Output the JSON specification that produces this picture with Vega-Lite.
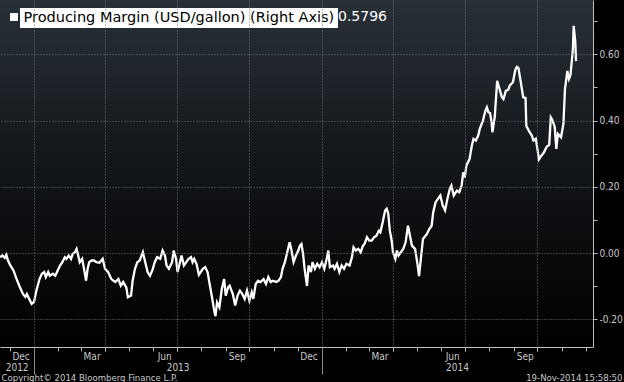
{
  "$schema": "https://vega.github.io/schema/vega-lite/v6.json",
  "width": 593,
  "height": 347,
  "autosize": {"type": "none"},
  "padding": {"left": 0, "top": 0, "right": 31, "bottom": 35},
  "background": "#000000",
  "config": {
    "view": {"stroke": null},
    "axis": {
      "labelFont": "Liberation Sans Narrow, Arial Narrow, DejaVu Sans Condensed, sans-serif",
      "labelFontSize": 10,
      "labelColor": "#c8c8c8",
      "tickColor": "#b8b8b8",
      "domainColor": "#c0c0c0",
      "gridColor": "#737a82",
      "gridDash": [1, 2],
      "titleFont": "Liberation Sans Narrow, Arial Narrow, DejaVu Sans Condensed, sans-serif",
      "titleFontSize": 9.5,
      "titleFontWeight": "normal",
      "titleColor": "#c8c8c8",
      "labelFlush": false,
      "labelOverlap": false,
      "labelBound": false,
      "zindex": 1
    }
  },
  "data": {"values": [
    {"date": "2012-11-19", "value": -0.012}, {"date": "2012-11-22", "value": -0.007}, {"date": "2012-11-25", "value": -0.014}, {"date": "2012-11-27", "value": -0.005}, {"date": "2012-11-29", "value": -0.022},
    {"date": "2012-12-02", "value": -0.037}, {"date": "2012-12-06", "value": -0.052}, {"date": "2012-12-10", "value": -0.078}, {"date": "2012-12-14", "value": -0.102}, {"date": "2012-12-18", "value": -0.123},
    {"date": "2012-12-21", "value": -0.132}, {"date": "2012-12-23", "value": -0.123}, {"date": "2012-12-26", "value": -0.138}, {"date": "2012-12-29", "value": -0.153}, {"date": "2013-01-01", "value": -0.147},
    {"date": "2013-01-04", "value": -0.113}, {"date": "2013-01-08", "value": -0.078}, {"date": "2013-01-11", "value": -0.062}, {"date": "2013-01-14", "value": -0.057}, {"date": "2013-01-16", "value": -0.072},
    {"date": "2013-01-19", "value": -0.057}, {"date": "2013-01-21", "value": -0.068}, {"date": "2013-01-25", "value": -0.062}, {"date": "2013-01-28", "value": -0.068}, {"date": "2013-01-31", "value": -0.052},
    {"date": "2013-02-03", "value": -0.037}, {"date": "2013-02-06", "value": -0.027}, {"date": "2013-02-09", "value": -0.012}, {"date": "2013-02-11", "value": -0.017}, {"date": "2013-02-14", "value": -0.007},
    {"date": "2013-02-17", "value": -0.017}, {"date": "2013-02-19", "value": -0.002}, {"date": "2013-02-22", "value": 0.003}, {"date": "2013-02-24", "value": 0.013}, {"date": "2013-02-26", "value": -0.007},
    {"date": "2013-02-28", "value": -0.027}, {"date": "2013-03-03", "value": -0.017}, {"date": "2013-03-05", "value": -0.042}, {"date": "2013-03-08", "value": -0.083}, {"date": "2013-03-10", "value": -0.047},
    {"date": "2013-03-12", "value": -0.027}, {"date": "2013-03-15", "value": -0.022}, {"date": "2013-03-18", "value": -0.022}, {"date": "2013-03-21", "value": -0.027}, {"date": "2013-03-25", "value": -0.029},
    {"date": "2013-03-29", "value": -0.017}, {"date": "2013-04-01", "value": -0.047}, {"date": "2013-04-05", "value": -0.057}, {"date": "2013-04-09", "value": -0.078}, {"date": "2013-04-14", "value": -0.087},
    {"date": "2013-04-18", "value": -0.078}, {"date": "2013-04-21", "value": -0.098}, {"date": "2013-04-24", "value": -0.087}, {"date": "2013-04-28", "value": -0.103}, {"date": "2013-04-30", "value": -0.133},
    {"date": "2013-05-04", "value": -0.128}, {"date": "2013-05-06", "value": -0.083}, {"date": "2013-05-09", "value": -0.047}, {"date": "2013-05-12", "value": -0.027}, {"date": "2013-05-15", "value": -0.022},
    {"date": "2013-05-19", "value": 0.003}, {"date": "2013-05-22", "value": -0.027}, {"date": "2013-05-25", "value": -0.057}, {"date": "2013-05-28", "value": -0.068}, {"date": "2013-05-31", "value": -0.052},
    {"date": "2013-06-03", "value": -0.027}, {"date": "2013-06-06", "value": -0.012}, {"date": "2013-06-10", "value": -0.017}, {"date": "2013-06-13", "value": 0.008}, {"date": "2013-06-16", "value": -0.007},
    {"date": "2013-06-18", "value": -0.037}, {"date": "2013-06-21", "value": -0.047}, {"date": "2013-06-25", "value": -0.027}, {"date": "2013-06-27", "value": 0.008}, {"date": "2013-06-30", "value": -0.017},
    {"date": "2013-07-02", "value": -0.057}, {"date": "2013-07-05", "value": -0.027}, {"date": "2013-07-07", "value": -0.007}, {"date": "2013-07-10", "value": -0.037}, {"date": "2013-07-13", "value": -0.027},
    {"date": "2013-07-16", "value": -0.017}, {"date": "2013-07-19", "value": -0.012}, {"date": "2013-07-21", "value": -0.027}, {"date": "2013-07-23", "value": -0.017}, {"date": "2013-07-26", "value": -0.032},
    {"date": "2013-07-29", "value": -0.065}, {"date": "2013-08-03", "value": -0.047}, {"date": "2013-08-06", "value": -0.042}, {"date": "2013-08-09", "value": -0.057}, {"date": "2013-08-12", "value": -0.098},
    {"date": "2013-08-15", "value": -0.138}, {"date": "2013-08-17", "value": -0.168}, {"date": "2013-08-19", "value": -0.190}, {"date": "2013-08-21", "value": -0.148}, {"date": "2013-08-24", "value": -0.163},
    {"date": "2013-08-27", "value": -0.108}, {"date": "2013-08-30", "value": -0.078}, {"date": "2013-09-01", "value": -0.128}, {"date": "2013-09-04", "value": -0.103}, {"date": "2013-09-06", "value": -0.098},
    {"date": "2013-09-10", "value": -0.123}, {"date": "2013-09-13", "value": -0.158}, {"date": "2013-09-16", "value": -0.128}, {"date": "2013-09-19", "value": -0.113}, {"date": "2013-09-22", "value": -0.123},
    {"date": "2013-09-25", "value": -0.138}, {"date": "2013-09-28", "value": -0.113}, {"date": "2013-10-01", "value": -0.143}, {"date": "2013-10-04", "value": -0.118}, {"date": "2013-10-06", "value": -0.138},
    {"date": "2013-10-09", "value": -0.093}, {"date": "2013-10-12", "value": -0.083}, {"date": "2013-10-15", "value": -0.087}, {"date": "2013-10-19", "value": -0.078}, {"date": "2013-10-22", "value": -0.093},
    {"date": "2013-10-25", "value": -0.072}, {"date": "2013-10-28", "value": -0.087}, {"date": "2013-10-31", "value": -0.083}, {"date": "2013-11-04", "value": -0.087}, {"date": "2013-11-07", "value": -0.083},
    {"date": "2013-11-10", "value": -0.072}, {"date": "2013-11-12", "value": -0.047}, {"date": "2013-11-15", "value": -0.027}, {"date": "2013-11-18", "value": 0.003}, {"date": "2013-11-21", "value": 0.033},
    {"date": "2013-11-23", "value": 0.013}, {"date": "2013-11-26", "value": -0.027}, {"date": "2013-11-29", "value": -0.007}, {"date": "2013-12-02", "value": 0.008}, {"date": "2013-12-04", "value": 0.023},
    {"date": "2013-12-06", "value": 0.028}, {"date": "2013-12-08", "value": -0.002}, {"date": "2013-12-10", "value": -0.047}, {"date": "2013-12-13", "value": -0.099}, {"date": "2013-12-15", "value": -0.037},
    {"date": "2013-12-18", "value": -0.057}, {"date": "2013-12-20", "value": -0.027}, {"date": "2013-12-23", "value": -0.047}, {"date": "2013-12-26", "value": -0.032}, {"date": "2013-12-29", "value": -0.042},
    {"date": "2014-01-01", "value": -0.027}, {"date": "2014-01-04", "value": -0.047}, {"date": "2014-01-07", "value": -0.017}, {"date": "2014-01-09", "value": 0.008}, {"date": "2014-01-11", "value": -0.042},
    {"date": "2014-01-15", "value": -0.037}, {"date": "2014-01-17", "value": -0.047}, {"date": "2014-01-20", "value": -0.032}, {"date": "2014-01-23", "value": -0.057}, {"date": "2014-01-26", "value": -0.037},
    {"date": "2014-01-29", "value": -0.047}, {"date": "2014-02-01", "value": -0.032}, {"date": "2014-02-05", "value": -0.037}, {"date": "2014-02-08", "value": -0.012}, {"date": "2014-02-10", "value": 0.018},
    {"date": "2014-02-13", "value": 0.008}, {"date": "2014-02-16", "value": 0.013}, {"date": "2014-02-19", "value": 0.003}, {"date": "2014-02-22", "value": 0.023}, {"date": "2014-02-24", "value": 0.028},
    {"date": "2014-02-27", "value": 0.048}, {"date": "2014-03-02", "value": 0.038}, {"date": "2014-03-05", "value": 0.038}, {"date": "2014-03-08", "value": 0.048}, {"date": "2014-03-11", "value": 0.053},
    {"date": "2014-03-14", "value": 0.068}, {"date": "2014-03-16", "value": 0.063}, {"date": "2014-03-19", "value": 0.094}, {"date": "2014-03-22", "value": 0.129}, {"date": "2014-03-24", "value": 0.134},
    {"date": "2014-03-26", "value": 0.119}, {"date": "2014-03-28", "value": 0.068}, {"date": "2014-03-30", "value": 0.043}, {"date": "2014-04-01", "value": 0.003}, {"date": "2014-04-04", "value": -0.017},
    {"date": "2014-04-06", "value": 0.008}, {"date": "2014-04-08", "value": -0.007}, {"date": "2014-04-11", "value": 0.003}, {"date": "2014-04-14", "value": 0.013}, {"date": "2014-04-17", "value": 0.033},
    {"date": "2014-04-20", "value": 0.083}, {"date": "2014-04-25", "value": 0.023}, {"date": "2014-04-29", "value": 0.013}, {"date": "2014-05-02", "value": -0.032}, {"date": "2014-05-04", "value": -0.069},
    {"date": "2014-05-09", "value": 0.043}, {"date": "2014-05-14", "value": 0.058}, {"date": "2014-05-17", "value": 0.073}, {"date": "2014-05-20", "value": 0.083}, {"date": "2014-05-22", "value": 0.124},
    {"date": "2014-05-25", "value": 0.154}, {"date": "2014-05-28", "value": 0.164}, {"date": "2014-05-31", "value": 0.174}, {"date": "2014-06-03", "value": 0.144}, {"date": "2014-06-06", "value": 0.129},
    {"date": "2014-06-09", "value": 0.164}, {"date": "2014-06-12", "value": 0.194}, {"date": "2014-06-14", "value": 0.204}, {"date": "2014-06-17", "value": 0.174}, {"date": "2014-06-21", "value": 0.189},
    {"date": "2014-06-24", "value": 0.184}, {"date": "2014-06-27", "value": 0.204}, {"date": "2014-06-29", "value": 0.244}, {"date": "2014-07-01", "value": 0.229}, {"date": "2014-07-03", "value": 0.264},
    {"date": "2014-07-07", "value": 0.284}, {"date": "2014-07-10", "value": 0.325}, {"date": "2014-07-12", "value": 0.345}, {"date": "2014-07-15", "value": 0.340}, {"date": "2014-07-18", "value": 0.355},
    {"date": "2014-07-20", "value": 0.375}, {"date": "2014-07-24", "value": 0.400}, {"date": "2014-07-27", "value": 0.429}, {"date": "2014-07-29", "value": 0.440}, {"date": "2014-07-31", "value": 0.425},
    {"date": "2014-08-02", "value": 0.423}, {"date": "2014-08-04", "value": 0.395}, {"date": "2014-08-05", "value": 0.365}, {"date": "2014-08-08", "value": 0.411}, {"date": "2014-08-11", "value": 0.520},
    {"date": "2014-08-14", "value": 0.496}, {"date": "2014-08-17", "value": 0.471}, {"date": "2014-08-19", "value": 0.465}, {"date": "2014-08-22", "value": 0.490}, {"date": "2014-08-25", "value": 0.493},
    {"date": "2014-08-27", "value": 0.506}, {"date": "2014-08-31", "value": 0.516}, {"date": "2014-09-03", "value": 0.553}, {"date": "2014-09-05", "value": 0.562}, {"date": "2014-09-07", "value": 0.559},
    {"date": "2014-09-10", "value": 0.516}, {"date": "2014-09-13", "value": 0.471}, {"date": "2014-09-16", "value": 0.468}, {"date": "2014-09-17", "value": 0.384}, {"date": "2014-09-21", "value": 0.366},
    {"date": "2014-09-24", "value": 0.355}, {"date": "2014-09-26", "value": 0.340}, {"date": "2014-09-29", "value": 0.345}, {"date": "2014-10-01", "value": 0.315}, {"date": "2014-10-03", "value": 0.283},
    {"date": "2014-10-06", "value": 0.294}, {"date": "2014-10-09", "value": 0.303}, {"date": "2014-10-13", "value": 0.322}, {"date": "2014-10-16", "value": 0.327}, {"date": "2014-10-18", "value": 0.410},
    {"date": "2014-10-20", "value": 0.402}, {"date": "2014-10-23", "value": 0.381}, {"date": "2014-10-25", "value": 0.315}, {"date": "2014-10-27", "value": 0.360}, {"date": "2014-10-31", "value": 0.350},
    {"date": "2014-11-03", "value": 0.390}, {"date": "2014-11-05", "value": 0.496}, {"date": "2014-11-08", "value": 0.550}, {"date": "2014-11-10", "value": 0.526}, {"date": "2014-11-12", "value": 0.538},
    {"date": "2014-11-15", "value": 0.616}, {"date": "2014-11-16", "value": 0.686}, {"date": "2014-11-18", "value": 0.640}, {"date": "2014-11-19", "value": 0.5796}
  ]},
  "layer": [
    {
      "data": {"values": [{"panel": "plot"}]},
      "mark": {"type": "rect", "color": {"gradient": "linear", "x1": 0, "y1": 0, "x2": 0, "y2": 1, "stops": [{"offset": 0, "color": "#283038"}, {"offset": 0.5, "color": "#111418"}, {"offset": 1, "color": "#000000"}]}},
      "encoding": {}
    },
    {
      "mark": {"type": "line", "color": "#ffffff", "strokeWidth": 2.3},
      "encoding": {
        "x": {"field": "date", "type": "temporal",
          "scale": {"domain": [{"year": 2012, "month": 11, "date": 18, "hours": 22}, {"year": 2014, "month": 12, "date": 10, "hours": 12}], "nice": false},
          "axis": {"orient": "bottom", "title": null, "labels": false, "grid": true, "ticks": true, "tickSize": 4, "domain": true, "zindex": 1,
            "values": [{"year": 2013, "month": 1, "date": 1}, {"year": 2013, "month": 4, "date": 1}, {"year": 2013, "month": 7, "date": 1}, {"year": 2013, "month": 10, "date": 1}, {"year": 2014, "month": 1, "date": 1}, {"year": 2014, "month": 4, "date": 1}, {"year": 2014, "month": 7, "date": 1}, {"year": 2014, "month": 10, "date": 1}]}},
        "y": {"field": "value", "type": "quantitative",
          "scale": {"domain": [-0.283, 0.764], "nice": false, "zero": false},
          "axis": {"orient": "right", "title": null, "grid": true, "tickSize": 4, "labelPadding": 2, "domain": true, "zindex": 1,
            "values": [-0.2, 0, 0.2, 0.4, 0.6],
            "labelExpr": "(datum.value < -0.001 ? '-' : '') + format(abs(datum.value), '.2f')"}},
        "color": {"datum": "Producing Margin", "type": "nominal", "scale": {"range": ["#ffffff"]},
          "legend": {"orient": "none", "legendX": 7, "legendY": 10, "title": null, "padding": 0,
            "symbolType": "square", "symbolSize": 64, "symbolFillColor": "#ffffff", "symbolStrokeColor": "#ffffff", "symbolStrokeWidth": 0,
            "labelExpr": "'0.5796'", "labelColor": "#ffffff", "labelFont": "DejaVu Sans", "labelFontSize": 14, "labelOffset": 317, "labelLimit": 0}}
      }
    },
    {
      "mark": {"type": "point", "opacity": 0},
      "encoding": {
        "x": {"field": "date", "type": "temporal",
          "scale": {"domain": [{"year": 2012, "month": 11, "date": 18, "hours": 22}, {"year": 2014, "month": 12, "date": 10, "hours": 12}], "nice": false},
          "axis": {"orient": "bottom", "title": null, "labels": false, "grid": false, "ticks": true, "tickSize": 4, "domain": false, "zindex": 1,
            "values": [{"year": 2012, "month": 12, "date": 1}, {"year": 2013, "month": 1, "date": 1}, {"year": 2013, "month": 2, "date": 1}, {"year": 2013, "month": 3, "date": 1}, {"year": 2013, "month": 4, "date": 1}, {"year": 2013, "month": 5, "date": 1}, {"year": 2013, "month": 6, "date": 1}, {"year": 2013, "month": 7, "date": 1}, {"year": 2013, "month": 8, "date": 1}, {"year": 2013, "month": 9, "date": 1}, {"year": 2013, "month": 10, "date": 1}, {"year": 2013, "month": 11, "date": 1}, {"year": 2013, "month": 12, "date": 1}, {"year": 2014, "month": 1, "date": 1}, {"year": 2014, "month": 2, "date": 1}, {"year": 2014, "month": 3, "date": 1}, {"year": 2014, "month": 4, "date": 1}, {"year": 2014, "month": 5, "date": 1}, {"year": 2014, "month": 6, "date": 1}, {"year": 2014, "month": 7, "date": 1}, {"year": 2014, "month": 8, "date": 1}, {"year": 2014, "month": 9, "date": 1}, {"year": 2014, "month": 10, "date": 1}, {"year": 2014, "month": 11, "date": 1}, {"year": 2014, "month": 12, "date": 1}]}},
        "y": {"field": "value", "type": "quantitative",
          "scale": {"domain": [-0.283, 0.764], "nice": false, "zero": false},
          "axis": {"orient": "right", "title": null, "grid": false, "labels": false, "tickSize": 4, "domain": false, "zindex": 1,
            "values": [-0.1, 0.1, 0.3, 0.5, 0.7]}}
      }
    },
    {
      "mark": {"type": "point", "opacity": 0},
      "encoding": {
        "x": {"field": "date", "type": "temporal",
          "scale": {"domain": [{"year": 2012, "month": 11, "date": 18, "hours": 22}, {"year": 2014, "month": 12, "date": 10, "hours": 12}], "nice": false},
          "axis": {"orient": "bottom", "grid": false, "ticks": false, "tickSize": 0, "domain": false, "labelPadding": 4, "format": "%b", "zindex": 1,
            "values": [{"year": 2012, "month": 12, "date": 15}, {"year": 2013, "month": 3, "date": 15}, {"year": 2013, "month": 6, "date": 15}, {"year": 2013, "month": 9, "date": 15}, {"year": 2013, "month": 12, "date": 15}, {"year": 2014, "month": 3, "date": 15}, {"year": 2014, "month": 6, "date": 15}, {"year": 2014, "month": 9, "date": 15}],
            "title": "Copyright© 2014 Bloomberg Finance L.P.", "titleX": 1, "titleY": 30.5, "titleAlign": "left", "titleAnchor": null, "titleBaseline": "middle"}}
      }
    },
    {
      "mark": {"type": "point", "opacity": 0},
      "encoding": {
        "x": {"field": "date", "type": "temporal",
          "scale": {"domain": [{"year": 2012, "month": 11, "date": 18, "hours": 22}, {"year": 2014, "month": 12, "date": 10, "hours": 12}], "nice": false},
          "axis": {"orient": "bottom", "grid": false, "ticks": false, "tickSize": 0, "domain": false, "labelPadding": 15, "format": "%Y", "zindex": 1,
            "values": [{"year": 2012, "month": 12, "date": 10}, {"year": 2013, "month": 7, "date": 2}, {"year": 2014, "month": 6, "date": 21}],
            "title": "19-Nov-2014 15:58:50", "titleX": 622, "titleY": 30.5, "titleAlign": "right", "titleAnchor": null, "titleBaseline": "middle"}}
      }
    },
    {
      "mark": {"type": "point", "opacity": 0},
      "encoding": {
        "x": {"field": "date", "type": "temporal",
          "scale": {"domain": [{"year": 2012, "month": 11, "date": 18, "hours": 22}, {"year": 2014, "month": 12, "date": 10, "hours": 12}], "nice": false},
          "axis": {"orient": "bottom", "title": null, "grid": false, "labels": false, "ticks": true, "tickSize": 27, "tickColor": "#8c8c8c", "domain": false, "zindex": 1,
            "values": [{"year": 2013, "month": 1, "date": 1}, {"year": 2014, "month": 1, "date": 1}]}}
      }
    },
    {
      "data": {"values": [{"label": "Producing Margin (USD/gallon) (Right Axis)"}]},
      "mark": {"type": "point", "opacity": 0},
      "encoding": {
        "shape": {"field": "label", "type": "nominal",
          "legend": {"orient": "none", "legendX": 20, "legendY": 8, "title": null, "fillColor": "#ffffff", "padding": 3,
            "symbolSize": 0, "symbolOpacity": 0, "symbolStrokeWidth": 0, "labelOffset": -14,
            "labelColor": "#000000", "labelFont": "DejaVu Sans", "labelFontSize": 14.5, "labelLimit": 0}}
      }
    }
  ],
  "resolve": {"axis": {"x": "independent", "y": "independent"}}
}
